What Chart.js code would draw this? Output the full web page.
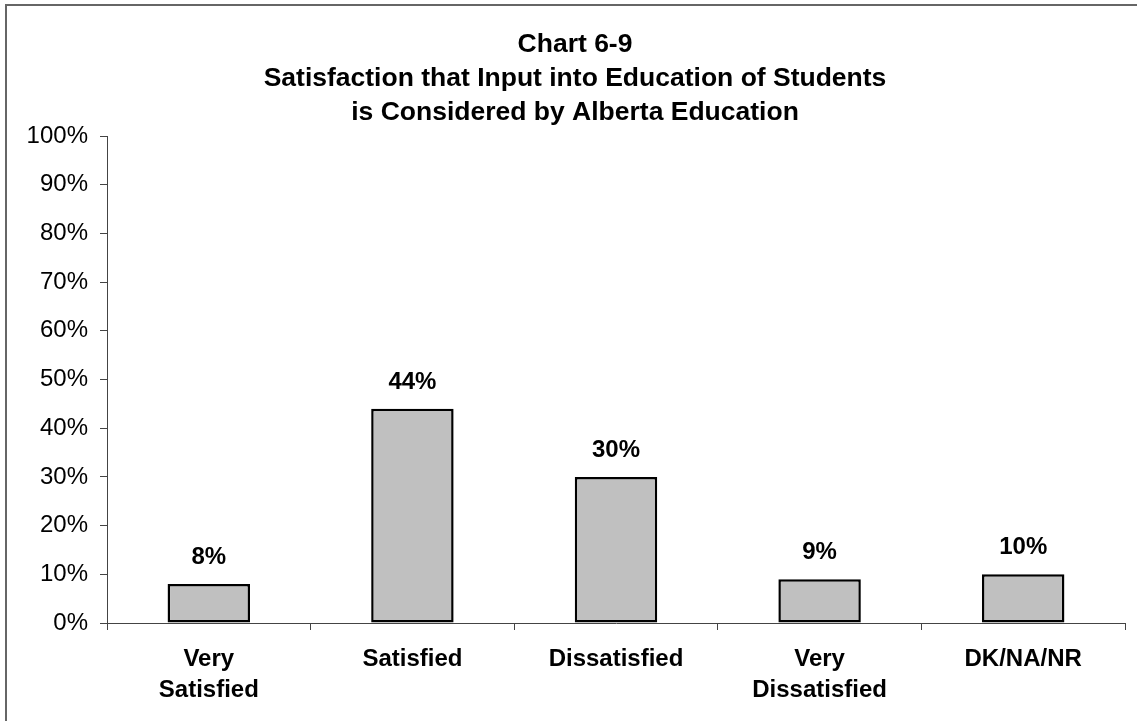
<!DOCTYPE html>
<html>
<head>
<meta charset="utf-8">
<title>Chart 6-9</title>
<script src="https://cdn.jsdelivr.net/npm/chart.js@4"></script>
<style>
    body { margin: 0; background: #fff; }
    #grafico { display: block; }
</style>
</head>
<body>
<canvas id="grafico" width="1137" height="721"></canvas>
<script>
var categorias = [['Very', 'Satisfied'], 'Satisfied', 'Dissatisfied', ['Very', 'Dissatisfied'], 'DK/NA/NR'];
var valores = [8, 44, 30, 9, 10];
var titulo = ['Chart 6-9', 'Satisfaction that Input into Education of Students', 'is Considered by Alberta Education'];

var fuente = "'Liberation Sans', Arial, sans-serif";

// marco exterior + titulo
var marcoTitulo = {
    id: 'marcoTitulo',
    beforeDraw: function(chart) {
        var ctx = chart.ctx;
        ctx.save();
        ctx.fillStyle = '#fff';
        ctx.fillRect(0, 0, chart.width, chart.height);
        ctx.strokeStyle = '#666';
        ctx.lineWidth = 2;
        ctx.strokeRect(6, 5, 1200, 800);
        ctx.fillStyle = '#000';
        ctx.font = 'bold 26.5px ' + fuente;
        ctx.textAlign = 'center';
        ctx.textBaseline = 'alphabetic';
        titulo.forEach(function(linea, i) {
            ctx.fillText(linea, 575, 52 + i * 34);
        });
        ctx.restore();
    }
};

// etiquetas de valor sobre cada barra
var etiquetas = {
    id: 'etiquetas',
    afterDatasetsDraw: function(chart) {
        var ctx = chart.ctx;
        var meta = chart.getDatasetMeta(0);
        ctx.save();
        ctx.fillStyle = '#000';
        ctx.font = 'bold 24px ' + fuente;
        ctx.textAlign = 'center';
        ctx.textBaseline = 'alphabetic';
        meta.data.forEach(function(barra, i) {
            ctx.fillText(valores[i] + '%', barra.x, barra.y - 20);
        });
        ctx.restore();
    }
};

var ctx = document.getElementById('grafico').getContext('2d');
var chart = new Chart(ctx, {
    type: 'bar',
    data: {
        labels: categorias,
        datasets: [{
            data: valores,
            backgroundColor: '#C0C0C0',
            borderColor: '#000',
            borderWidth: 2.5,
            borderSkipped: false,
            barPercentage: 0.405,
            categoryPercentage: 1
        }]
    },
    options: {
        responsive: false,
        animation: false,
        layout: {
            padding: { left: 0, right: 12, top: 136, bottom: 0 }
        },
        plugins: {
            legend: { display: false },
            title: { display: false },
            tooltip: { enabled: false }
        },
        scales: {
            x: {
                grid: {
                    offset: true,
                    drawOnChartArea: false,
                    drawTicks: true,
                    tickLength: 7,
                    color: '#444'
                },
                border: { color: '#444', width: 1 },
                ticks: {
                    color: '#000',
                    padding: 14,
                    maxRotation: 0,
                    autoSkip: false,
                    font: { family: fuente, size: 24, weight: 'bold', lineHeight: 1.3 }
                },
                afterFit: function(scale) {
                    scale.height = 98;
                }
            },
            y: {
                min: 0,
                max: 100,
                grid: {
                    drawOnChartArea: false,
                    drawTicks: true,
                    tickLength: 7,
                    color: '#444'
                },
                border: { color: '#444', width: 1 },
                ticks: {
                    stepSize: 10,
                    color: '#000',
                    padding: 12,
                    font: { family: fuente, size: 24 },
                    callback: function(v) { return v + '%'; }
                },
                afterFit: function(scale) {
                    scale.width = 107;
                }
            }
        }
    },
    plugins: [marcoTitulo, etiquetas]
});
</script>
</body>
</html>
